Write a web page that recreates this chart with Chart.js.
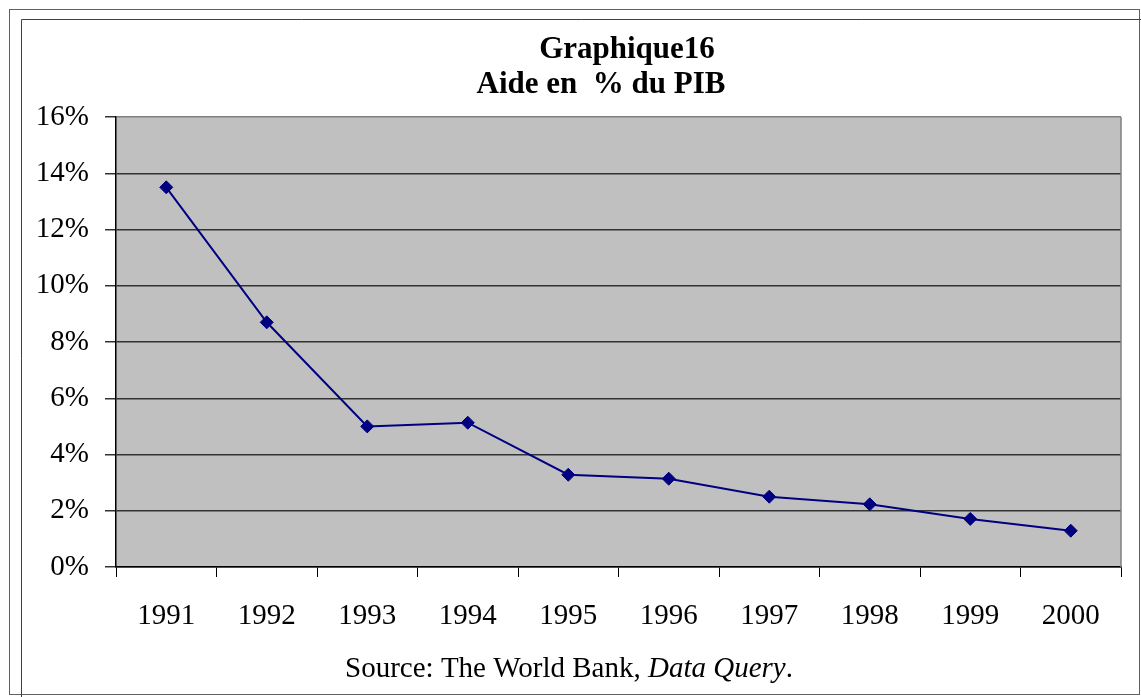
<!DOCTYPE html>
<html>
<head>
<meta charset="utf-8">
<title>Graphique 16</title>
<script src="https://cdn.jsdelivr.net/npm/chart.js@4.4.1/dist/chart.umd.min.js"></script>
<style>
  html, body { margin: 0; padding: 0; background: #fff; }
  #wrap { width: 1141px; height: 697px; position: relative; }
</style>
</head>
<body>
<div id="wrap"><canvas id="aideChart"></canvas></div>
<script>
// data
const years = ['1991', '1992', '1993', '1994', '1995', '1996', '1997', '1998', '1999', '2000'];
const aidePct = [13.5, 8.7, 5.0, 5.13, 3.28, 3.14, 2.5, 2.23, 1.71, 1.29];
const yTicks = [0, 2, 4, 6, 8, 10, 12, 14, 16];
const titleLines = ['Graphique16', 'Aide en  % du PIB'];
const sourceParts = [
  { text: 'Source: The World Bank, ', italic: false },
  { text: 'Data Query', italic: true },
  { text: '.', italic: false }
];

const SERIF = '"Liberation Serif", "Times New Roman", serif';

// frame, gray plot background, title and source line
const excelLook = {
  id: 'excelLook',
  beforeDraw(chart) {
    const { ctx, chartArea: a } = chart;
    ctx.save();
    ctx.fillStyle = '#fff';
    ctx.fillRect(0, 0, chart.width, chart.height);
    ctx.strokeStyle = '#606060';
    ctx.lineWidth = 1;
    ctx.strokeRect(9.5, 9.5, 1130, 685);
    ctx.strokeStyle = '#404040';
    ctx.beginPath();
    ctx.moveTo(21.5, chart.height);
    ctx.lineTo(21.5, 19.5);
    ctx.lineTo(chart.width, 19.5);
    ctx.stroke();
    ctx.fillStyle = '#c0c0c0';
    ctx.fillRect(a.left, a.top, a.right - a.left, a.bottom - a.top);
    ctx.restore();
  },
  afterDraw(chart) {
    const { ctx, chartArea: a } = chart;
    ctx.save();
    // right edge of the plot area
    ctx.strokeStyle = '#808080';
    ctx.lineWidth = 1.5;
    ctx.beginPath();
    ctx.moveTo(a.right, a.top);
    ctx.lineTo(a.right, a.bottom);
    ctx.stroke();

    ctx.fillStyle = '#000';
    ctx.textAlign = 'center';
    ctx.textBaseline = 'alphabetic';
    ctx.font = 'bold 31px ' + SERIF;
    ctx.fillText(titleLines[0], 627, 58);
    ctx.fillText(titleLines[1], 601, 93);

    // source, with the italic part
    ctx.textAlign = 'left';
    const fonts = sourceParts.map(p => (p.italic ? 'italic ' : '') + '29px ' + SERIF);
    let total = 0;
    const widths = sourceParts.map((p, i) => {
      ctx.font = fonts[i];
      const w = ctx.measureText(p.text).width;
      total += w;
      return w;
    });
    let x = 569 - total / 2;
    sourceParts.forEach((p, i) => {
      ctx.font = fonts[i];
      ctx.fillText(p.text, x, 677);
      x += widths[i];
    });
    ctx.restore();
  }
};

new Chart(document.getElementById('aideChart'), {
  type: 'line',
  data: {
    labels: years,
    datasets: [{
      label: 'Aide en % du PIB',
      data: aidePct,
      borderColor: '#000080',
      borderWidth: 2,
      backgroundColor: '#000080',
      pointStyle: 'rectRot',
      pointRadius: 6.5,
      pointHoverRadius: 6.5,
      pointBorderWidth: 1,
      pointBorderColor: '#000080',
      pointBackgroundColor: '#000080',
      tension: 0,
      fill: false
    }]
  },
  options: {
    responsive: true,
    maintainAspectRatio: false,
    animation: false,
    layout: { padding: { top: 117, right: 20, left: 0, bottom: 0 } },
    plugins: {
      legend: { display: false },
      title: { display: false },
      tooltip: { enabled: false }
    },
    scales: {
      x: {
        offset: true,
        grid: {
          offset: true,
          drawOnChartArea: false,
          drawTicks: true,
          tickLength: 10,
          tickColor: '#000',
          lineWidth: 1
        },
        border: { display: true, color: '#000', width: 1.5 },
        ticks: {
          color: '#000',
          font: { family: SERIF, size: 29 },
          padding: 22,
          maxRotation: 0,
          autoSkip: false
        },
        afterFit(scale) { scale.height = 130; }
      },
      y: {
        min: 0,
        max: 16,
        afterBuildTicks(scale) { scale.ticks = yTicks.map(v => ({ value: v })); },
        grid: {
          color: ctx => (ctx.tick && ctx.tick.value === 16 ? '#808080' : '#333'),
          lineWidth: 1.5,
          tickLength: 11,
          tickColor: '#333'
        },
        border: { display: true, color: '#000', width: 1.5 },
        ticks: {
          color: '#000',
          font: { family: SERIF, size: 29 },
          padding: 16,
          callback: v => v + '%'
        },
        afterFit(scale) { scale.width = 116; }
      }
    }
  },
  plugins: [excelLook]
});
</script>
</body>
</html>
